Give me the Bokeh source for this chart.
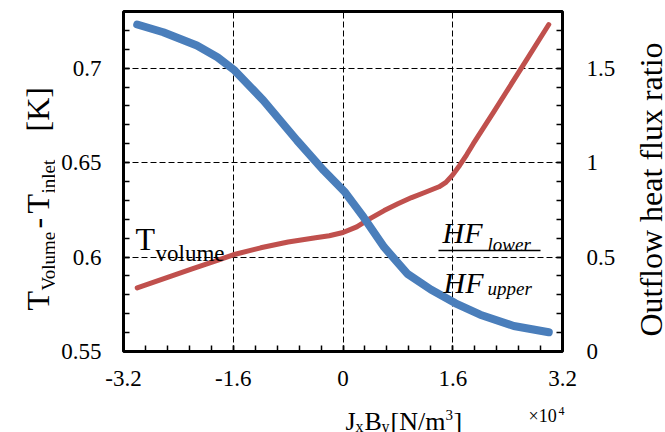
import numpy as np
from bokeh.plotting import figure
from bokeh.models import Range1d, LinearAxis, FixedTicker, Label
from bokeh.layouts import row, column
from bokeh.embed import file_html
from bokeh.resources import INLINE

# ---------------- data ----------------
jxby_t = [-3.0, -2.62, -2.13, -1.83, -1.58, -1.16, -0.67, -0.28, 0.03, 0.30,
          0.60, 0.94, 1.28, 1.64, 2.0, 2.49, 3.0]
t_volume = [0.7231, 0.7190, 0.7120, 0.7058, 0.6988, 0.6829, 0.6617, 0.6458, 0.6343,
            0.6211, 0.6052, 0.5911, 0.5828, 0.5755, 0.5695, 0.5635, 0.5602]

jxby_hf = [-3.0, -2.6, -2.2, -1.8, -1.6, -1.2, -0.8, -0.4, -0.2, 0.0, 0.2, 0.4,
           0.6, 0.8, 1.0, 1.2, 1.4, 1.5, 1.6, 1.7, 1.8, 1.9, 2.2, 2.6, 3.0]
hf_ratio = [0.337, 0.387, 0.437, 0.487, 0.512, 0.549, 0.580, 0.602, 0.613, 0.630,
            0.660, 0.705, 0.746, 0.782, 0.815, 0.843, 0.872, 0.895, 0.935, 0.985,
            1.040, 1.100, 1.270, 1.500, 1.731]

x_ticks = [-3.2, -1.6, 0.0, 1.6, 3.2]
x_tick_labels = ["-3.2", "-1.6", "0", "1.6", "3.2"]
y_ticks = [0.55, 0.6, 0.65, 0.7]
y_tick_labels = ["0.55", "0.6", "0.65", "0.7"]
y2_ticks = [0.0, 0.5, 1.0, 1.5]
y2_tick_labels = ["0", "0.5", "1", "1.5"]
x_grid = [-1.6, 0.0, 1.6]
y_grid = [0.6, 0.65, 0.7]

X0, X1 = -3.2, 3.2
Y0, Y1 = 0.55, 0.73
Y20, Y21 = 0.0, 1.8

# ---------------- layout (page pixels, origin top-left) ----------------
TOTAL_W, TOTAL_H = 665, 432
LW = 55                 # left title strip width
RW = 45                 # right title strip width
MW = TOTAL_W - LW - RW  # main figure width
MH = 398                # main figure height
BH = TOTAL_H - MH       # bottom strip height
PL, PR, PT, PB = 123, 562, 11, 351      # frame edges in page pixels
FONT = "Liberation Serif"


def dx(X):
    return X0 + (X - PL) / (PR - PL) * (X1 - X0)


def dy(Y):
    return Y0 + (PB - Y) / (PB - PT) * (Y1 - Y0)


p = figure(width=MW, height=MH, x_range=Range1d(X0, X1), y_range=Range1d(Y0, Y1),
           output_backend="svg", toolbar_location=None,
           min_border_left=PL - LW, min_border_right=(LW + MW) - PR,
           min_border_top=PT, min_border_bottom=MH - PB)
p.title = None
p.extra_y_ranges = {"hf": Range1d(Y20, Y21)}
p.background_fill_color = "white"
p.border_fill_color = "white"
p.outline_line_color = "black"
p.outline_line_width = 3

right = LinearAxis(y_range_name="hf")
p.add_layout(right, "right")


def style_axis(ax, ticks, labels, minor, standoff):
    ax.ticker = FixedTicker(ticks=ticks, minor_ticks=minor)
    ax.major_label_overrides = {t: l for t, l in zip(ticks, labels)}
    ax.axis_line_color = None
    ax.major_tick_in = 6
    ax.major_tick_out = 0
    ax.minor_tick_in = 6
    ax.minor_tick_out = 0
    ax.major_tick_line_color = "black"
    ax.minor_tick_line_color = "black"
    ax.major_tick_line_width = 1.5
    ax.minor_tick_line_width = 1.5
    ax.major_label_text_font = FONT
    ax.major_label_text_font_size = "23px"
    ax.major_label_text_color = "black"
    ax.major_label_standoff = standoff


x_minor = [round(X0 + 0.32 * i, 2) for i in range(21)]
y_minor = [round(Y0 + 0.01 * i, 2) for i in range(19)]
y2_minor = [round(Y20 + 0.1 * i, 1) for i in range(19)]

style_axis(p.xaxis[0], x_ticks, x_tick_labels, x_minor, 19)
style_axis(p.yaxis[0], y_ticks, y_tick_labels, y_minor, 22)
style_axis(right, y2_ticks, y2_tick_labels, y2_minor, 24)

p.xgrid.ticker = FixedTicker(ticks=x_grid)
p.ygrid.ticker = FixedTicker(ticks=y_grid)
for g in (p.xgrid[0], p.ygrid[0]):
    g.grid_line_color = "black"
    g.grid_line_width = 1
    g.grid_line_dash = "6 3"

# ---------------- curves ----------------
p.line(jxby_hf, hf_ratio, y_range_name="hf", line_color="#c0504d", line_width=5,
       line_cap="round", line_join="round")
p.line(jxby_t, t_volume, line_color="#4a7ebb", line_width=8,
       line_cap="round", line_join="round")


# ---------------- texts inside the plot ----------------
def lab_main(X, Y, text, size, style="normal"):
    p.add_layout(Label(x=dx(X), y=dy(Y), text=text, text_font=FONT,
                       text_font_size=f"{size}px", text_font_style=style,
                       text_color="black", text_align="left",
                       text_baseline="alphabetic"))


lab_main(135, 238, "T", 32)
lab_main(155, 253, "volume", 23)
lab_main(442, 232, "HF", 30, style="italic")
lab_main(487, 244, "lower", 19, style="italic")
lab_main(443, 282, "HF", 30, style="italic")
lab_main(487, 288, "upper", 19, style="italic")
p.segment(x0=[dx(438)], y0=[dy(250)], x1=[dx(540)], y1=[dy(250)],
          line_color="black", line_width=1.5)


# ---------------- title strips (plain figures without axes) ----------------
def strip(w, h):
    f = figure(width=w, height=h, x_range=Range1d(0, w), y_range=Range1d(0, h),
               x_axis_type=None, y_axis_type=None, output_backend="svg",
               toolbar_location=None, min_border=0,
               min_border_left=0, min_border_right=0, min_border_top=0,
               min_border_bottom=0)
    f.title = None
    f.outline_line_color = None
    f.background_fill_color = "white"
    f.border_fill_color = "white"
    return f


def lab_strip(f, ox, oy, h, X, Y, text, size, angle=0.0, align="left"):
    f.add_layout(Label(x=X - ox, y=h - (Y - oy), text=text, text_font=FONT,
                       text_font_size=f"{size}px", text_color="black",
                       angle=angle, text_align=align, text_baseline="alphabetic"))


R = np.pi / 2

# left title: T_Volume - T_inlet [K]
left = strip(LW, MH)
lab_strip(left, 0, 0, MH, 37, 310, "T", 32, R)
lab_strip(left, 0, 0, MH, 48, 290, "Volume", 19, R)
lab_strip(left, 0, 0, MH, 37, 228, "-", 32, R)
lab_strip(left, 0, 0, MH, 37, 213, "T", 32, R)
lab_strip(left, 0, 0, MH, 48, 193, "inlet", 19, R)
lab_strip(left, 0, 0, MH, 37, 131, "[K]", 32, R)

# right title
rstrip = strip(RW, MH)
lab_strip(rstrip, LW + MW, 0, MH, 650, 189, "Outflow heat flux ratio", 32, R,
          align="center")

# bottom strip: J_x B_y [N/m^3]  and  x10^4
bottom = strip(TOTAL_W, BH)
OY = MH
lab_strip(bottom, 0, OY, BH, 345, 421, "J", 26)
lab_strip(bottom, 0, OY, BH, 355, 426, "x", 16)
lab_strip(bottom, 0, OY, BH, 364, 421, "B", 26)
lab_strip(bottom, 0, OY, BH, 381, 426, "y", 16)
lab_strip(bottom, 0, OY, BH, 390, 421, "[N/m", 26)
lab_strip(bottom, 0, OY, BH, 445, 414, "3", 15)
lab_strip(bottom, 0, OY, BH, 453, 421, "]", 26)
lab_strip(bottom, 0, OY, BH, 528, 415, "\u00d710", 18)
lab_strip(bottom, 0, OY, BH, 558, 410, "4", 12)

layout = column(row(left, column(p), rstrip), bottom)

open("out.html", "w").write(file_html(layout, INLINE))
